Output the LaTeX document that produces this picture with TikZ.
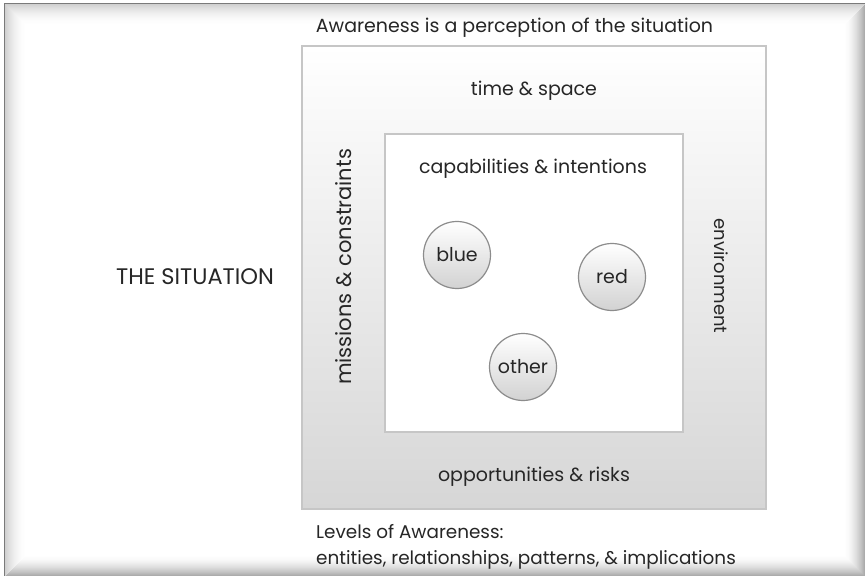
\documentclass[tikz,border=0pt]{standalone}
\usepackage{fontspec}
\setmainfont{Poppins}
\definecolor{txt}{HTML}{262626}
\definecolor{frameline}{HTML}{7A7A7A}
\definecolor{boxline}{HTML}{C6C6C6}
\definecolor{boxbot}{HTML}{D6D6D6}
\definecolor{circline}{HTML}{8C8C8C}
\definecolor{circbot}{HTML}{D2D2D2}
\tikzset{
  lbl/.style={text=txt, font=\fontsize{19bp}{26bp}\selectfont, inner sep=0pt},
  entity/.style={circle, draw=circline, line width=1.2bp, top color=white, bottom color=circbot,
    minimum size=67bp, inner sep=0pt, text=txt, font=\fontsize{19bp}{22bp}\selectfont},
}
\begin{document}
\begin{tikzpicture}[x=1bp,y=-1bp]
\useasboundingbox (0,0) rectangle (865,576);
\fill[white] (0,0) rectangle (865,576);
% frame with inner shadow
\begin{scope}
\clip (4.5,3.5) rectangle (870,580);
\foreach \i in {0,...,22}{
  \pgfmathsetmacro\op{0.2*(1-\i/23)^2}
  \draw[black,opacity=\op,line width=1.1bp] (4.5+\i,3.5+\i) rectangle (866-\i,577-\i);
}
\end{scope}
\draw[frameline,line width=1.2bp] (4.5,3.5) rectangle (866,577);
% squares
\node[draw=boxline,line width=1.2bp,top color=white,bottom color=boxbot,
  minimum width=464bp,minimum height=463bp,inner sep=0pt] (outer) at (534,277.5) {};
\node[draw=boxline,line width=1.2bp,fill=white,
  minimum width=298bp,minimum height=298bp,inner sep=0pt] (inner) at (534,283) {};
% labels
\node[lbl] (title) at (514.5,28) {Awareness is a perception of the situation};
\node[lbl] (time) at (534,91) {time \& space};
\node[lbl] (cap) at (533,169) {capabilities \& intentions};
\node[lbl,font=\fontsize{22.5bp}{26bp}\selectfont] (sit) at (195,277) {THE SITUATION};
\node[lbl,rotate=90,font=\fontsize{21bp}{26bp}\selectfont] (mis) at (344,267) {missions \& constraints};
\node[lbl,rotate=-90,font=\fontsize{18bp}{26bp}\selectfont] (env) at (721,276) {environment};
\node[lbl] (opp) at (534,477) {opportunities \& risks};
\node[lbl,anchor=west,align=left,font=\fontsize{18.4bp}{26bp}\selectfont] (lev) at (316,547) {Levels of Awareness:\\entities, relationships, patterns, \& implications};
% entities
\node[entity] (blue) at (457,255) {blue};
\node[entity] (red) at (612,277) {red};
\node[entity] (other) at (523,367) {other};
\end{tikzpicture}
\end{document}
